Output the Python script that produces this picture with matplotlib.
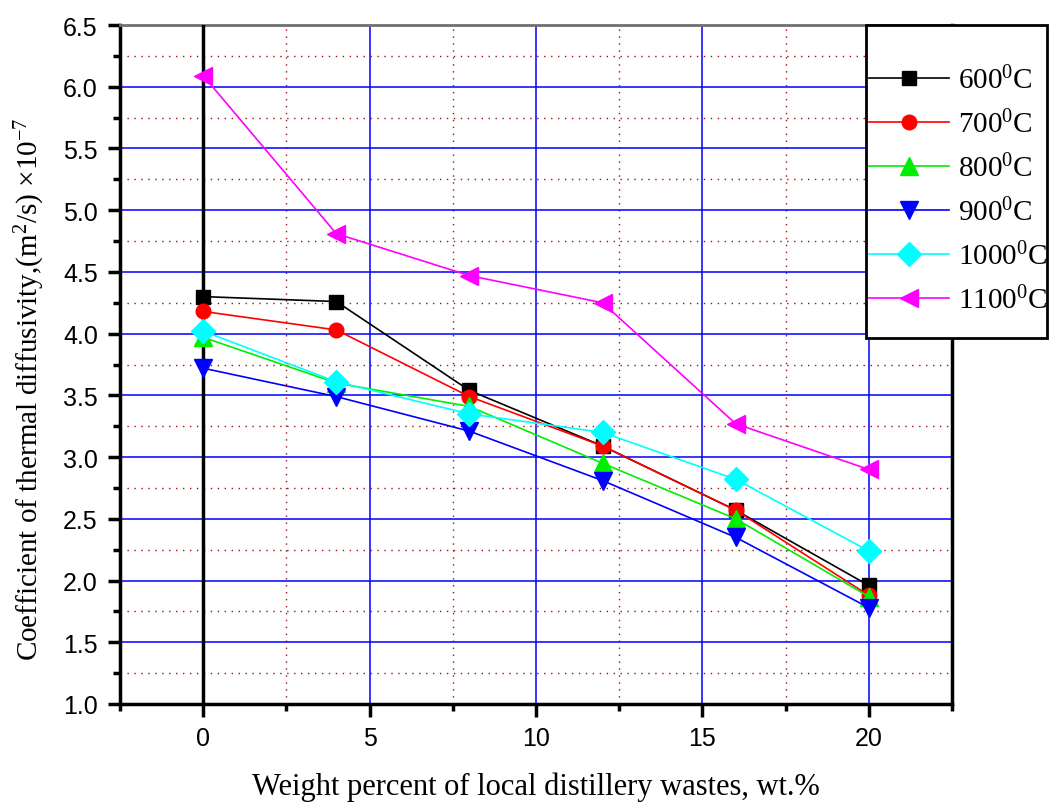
import matplotlib
matplotlib.use("Agg")
import matplotlib.pyplot as plt
from matplotlib.patches import Rectangle
from matplotlib.ticker import MultipleLocator, FormatStrFormatter

# data
wt = [0, 4, 8, 12, 16, 20]
t600 = [4.30, 4.26, 3.54, 3.09, 2.57, 1.96]
t700 = [4.18, 4.03, 3.49, 3.09, 2.57, 1.88]
t800 = [3.97, 3.60, 3.41, 2.95, 2.50, 1.87]
t900 = [3.72, 3.49, 3.21, 2.81, 2.35, 1.78]
t1000 = [4.02, 3.61, 3.35, 3.20, 2.82, 2.24]
t1100 = [6.09, 4.81, 4.47, 4.25, 3.27, 2.90]

labels = ['600$^0$C', '700$^0$C', '800$^0$C', '900$^0$C', '1000$^0$C', '1100$^0$C']
series = [t600, t700, t800, t900, t1000, t1100]
colors = ['black', 'red', '#00ee00', 'blue', 'cyan', 'magenta']
markers = ['s', 'o', '^', 'v', 'D', '<']
msizes = [9.5, 10.5, 13, 13, 12, 13]

plt.rcParams['mathtext.default'] = 'regular'

W, H = 1051, 804
fig = plt.figure(figsize=(W / 100, H / 100), dpi=100)
ax = fig.add_axes([120 / W, 1 - 705 / H, 832 / W, 679 / H])

for y, c, m, ms, lab in zip(series, colors, markers, msizes, labels):
    ax.plot(wt, y, color=c, marker=m, markersize=ms, lw=1.2, label=lab, zorder=5)

ax.set_xlim(-2.5, 22.5)
ax.set_ylim(1.0, 6.5)

ax.xaxis.set_major_locator(MultipleLocator(5))
ax.xaxis.set_minor_locator(MultipleLocator(2.5))
ax.yaxis.set_major_locator(MultipleLocator(0.5))
ax.yaxis.set_minor_locator(MultipleLocator(0.25))
ax.yaxis.set_major_formatter(FormatStrFormatter('%.1f'))

# grid: blue major lines, dotted dark red minor lines
ax.grid(which='major', color='#0000ff', lw=1.1, zorder=1)
ax.grid(which='minor', color='#a01010', lw=1.0, ls=(0, (1, 4)), zorder=1)
ax.set_axisbelow(True)
ax.axvline(0, color='black', lw=2.5, zorder=3)

for side in ['left', 'bottom', 'right']:
    ax.spines[side].set_linewidth(2.5)
    ax.spines[side].set_color('black')
ax.spines['top'].set_linewidth(2)
ax.spines['top'].set_color('#707070')

ax.tick_params(which='major', direction='out', length=9, width=2.5, pad=7)
ax.tick_params(which='minor', direction='out', length=5, width=2.5)
for lbl in ax.get_xticklabels() + ax.get_yticklabels():
    lbl.set_family('Liberation Sans')
    lbl.set_fontsize(18)

ax.set_xlabel('Weight percent of local distillery wastes, wt.%',
              family='Liberation Serif', fontsize=22, labelpad=15)
ax.set_ylabel('Coefficient of thermal diffusivity,(m$^2$/s) \u00d710$^{-7}$',
              family='Liberation Serif', fontsize=21)
ax.yaxis.set_label_coords(-0.0877, 0.465)

# legend box sticks out past the right spine, as in the original
fig.add_artist(Rectangle((866 / W, 1 - 339 / H), 181 / W, 313 / H, transform=fig.transFigure,
                         facecolor='white', edgecolor='black', lw=2, zorder=9))
handles, names = ax.get_legend_handles_labels()
leg = fig.legend(handles, names, loc='center', bbox_to_anchor=(958 / W, 1 - 191 / H),
                 prop={'family': 'Liberation Serif', 'size': 21},
                 frameon=False, borderpad=0.1, labelspacing=0.53,
                 handlelength=2.75, handletextpad=0.3, borderaxespad=0)
leg.set_zorder(10)

fig.savefig('out.png', dpi=100)
